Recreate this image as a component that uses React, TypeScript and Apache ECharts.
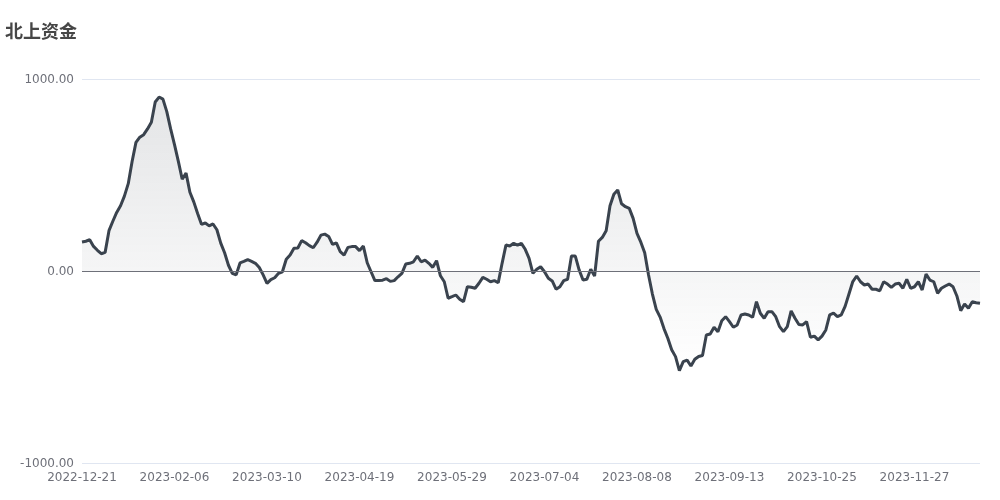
import React, { useEffect, useRef } from "react";
import * as echarts from "echarts";

const titleText = "北上资金";

const dates: string[] = [
  "2022-12-21",
  "2022-12-22", "2022-12-28", "2022-12-29", "2022-12-30", "2023-01-03", "2023-01-04", "2023-01-05", "2023-01-06",
  "2023-01-09", "2023-01-10", "2023-01-11", "2023-01-12", "2023-01-13", "2023-01-16", "2023-01-17", "2023-01-18",
  "2023-01-19", "2023-01-20", "2023-01-30", "2023-01-31", "2023-02-01", "2023-02-02", "2023-02-03", "2023-02-06",
  "2023-02-07", "2023-02-08", "2023-02-09", "2023-02-10", "2023-02-13", "2023-02-14", "2023-02-15", "2023-02-16",
  "2023-02-17", "2023-02-20", "2023-02-21", "2023-02-22", "2023-02-23", "2023-02-24", "2023-02-27", "2023-02-28",
  "2023-03-01", "2023-03-02", "2023-03-03", "2023-03-06", "2023-03-07", "2023-03-08", "2023-03-09", "2023-03-10",
  "2023-03-13", "2023-03-14", "2023-03-15", "2023-03-16", "2023-03-17", "2023-03-20", "2023-03-21", "2023-03-22",
  "2023-03-23", "2023-03-24", "2023-03-27", "2023-03-28", "2023-03-29", "2023-03-30", "2023-03-31", "2023-04-03",
  "2023-04-04", "2023-04-11", "2023-04-12", "2023-04-13", "2023-04-14", "2023-04-17", "2023-04-18", "2023-04-19",
  "2023-04-20", "2023-04-21", "2023-04-24", "2023-04-25", "2023-04-26", "2023-04-27", "2023-04-28", "2023-05-04",
  "2023-05-05", "2023-05-08", "2023-05-09", "2023-05-10", "2023-05-11", "2023-05-12", "2023-05-15", "2023-05-16",
  "2023-05-17", "2023-05-18", "2023-05-19", "2023-05-22", "2023-05-23", "2023-05-24", "2023-05-25", "2023-05-29",
  "2023-05-30", "2023-05-31", "2023-06-01", "2023-06-02", "2023-06-05", "2023-06-06", "2023-06-07", "2023-06-08",
  "2023-06-09", "2023-06-12", "2023-06-13", "2023-06-14", "2023-06-15", "2023-06-16", "2023-06-19", "2023-06-20",
  "2023-06-21", "2023-06-26", "2023-06-27", "2023-06-28", "2023-06-29", "2023-06-30", "2023-07-03", "2023-07-04",
  "2023-07-05", "2023-07-06", "2023-07-07", "2023-07-10", "2023-07-11", "2023-07-12", "2023-07-13", "2023-07-14",
  "2023-07-18", "2023-07-19", "2023-07-20", "2023-07-21", "2023-07-24", "2023-07-25", "2023-07-26", "2023-07-27",
  "2023-07-28", "2023-07-31", "2023-08-01", "2023-08-02", "2023-08-03", "2023-08-04", "2023-08-07", "2023-08-08",
  "2023-08-09", "2023-08-10", "2023-08-11", "2023-08-14", "2023-08-15", "2023-08-16", "2023-08-17", "2023-08-18",
  "2023-08-21", "2023-08-22", "2023-08-23", "2023-08-24", "2023-08-25", "2023-08-28", "2023-08-29", "2023-08-30",
  "2023-08-31", "2023-09-04", "2023-09-05", "2023-09-06", "2023-09-07", "2023-09-11", "2023-09-12", "2023-09-13",
  "2023-09-14", "2023-09-15", "2023-09-18", "2023-09-19", "2023-09-20", "2023-09-21", "2023-09-22", "2023-09-25",
  "2023-09-26", "2023-09-27", "2023-09-28", "2023-10-09", "2023-10-10", "2023-10-11", "2023-10-12", "2023-10-13",
  "2023-10-16", "2023-10-17", "2023-10-18", "2023-10-19", "2023-10-20", "2023-10-23", "2023-10-24", "2023-10-25",
  "2023-10-26", "2023-10-27", "2023-10-30", "2023-10-31", "2023-11-01", "2023-11-02", "2023-11-03", "2023-11-06",
  "2023-11-07", "2023-11-08", "2023-11-09", "2023-11-10", "2023-11-13", "2023-11-14", "2023-11-15", "2023-11-16",
  "2023-11-17", "2023-11-20", "2023-11-21", "2023-11-22", "2023-11-23", "2023-11-24", "2023-11-25", "2023-11-27",
  "2023-11-28", "2023-11-29", "2023-11-30", "2023-12-01", "2023-12-04", "2023-12-05", "2023-12-06", "2023-12-07",
  "2023-12-08", "2023-12-11", "2023-12-12", "2023-12-13", "2023-12-14", "2023-12-15", "2023-12-18", "2023-12-19",
  "2023-12-20",
];

const netInflow: number[] = [
  151, 155, 163, 128, 108, 90, 97, 210, 259, 305,
  340, 390, 455, 570, 670, 697, 710, 740, 775, 880,
  906, 895, 830, 740, 658, 571, 478, 510, 410, 360,
  300, 243, 250, 235, 245, 215, 145, 95, 30, -12,
  -20, 42, 50, 59, 50, 40, 18, -20, -64, -45,
  -35, -12, -4, 61, 83, 118, 120, 158, 147, 132,
  121, 150, 187, 192, 180, 139, 146, 101, 83, 123,
  127, 127, 106, 130, 43, -4, -50, -50, -48, -40,
  -54, -50, -30, -12, 36, 40, 48, 78, 48, 57,
  40, 19, 54, -25, -56, -142, -134, -125, -147, -160,
  -82, -85, -90, -64, -33, -43, -56, -50, -61, 40,
  135, 130, 144, 135, 144, 113, 66, -12, 9, 22,
  -4, -38, -52, -95, -82, -50, -43, 78, 78, 5,
  -47, -43, 9, -26, 155, 175, 210, 340, 400, 422,
  350, 335, 326, 274, 196, 150, 95, -21, -120, -200,
  -240, -300, -350, -410, -446, -519, -472, -464, -495, -460,
  -445, -440, -333, -328, -293, -316, -259, -238, -264, -293,
  -281, -229, -224, -229, -241, -160, -220, -246, -212, -212,
  -238, -290, -316, -290, -208, -246, -279, -281, -264, -345,
  -339, -359, -339, -307, -229, -220, -238, -229, -184, -120,
  -55, -26, -56, -73, -68, -95, -95, -103, -56, -68,
  -85, -68, -64, -90, -43, -90, -82, -56, -99, -16,
  -47, -56, -116, -90, -78, -68, -82, -130, -207, -172,
  -194, -160, -165, -168,
];

const yMin = -1000;
const yMax = 1000;
const yStep = 1000;

export default function App() {
  const ref = useRef<HTMLDivElement>(null);
  useEffect(() => {
    if (!ref.current) return;
    const chart = echarts.init(ref.current, undefined, { renderer: "svg" });
    chart.setOption({
      animation: false,
      title: {
        text: titleText,
        left: 0,
        top: 16,
        textStyle: {
          fontSize: 18,
          fontWeight: "bold",
          color: "#464646",
          fontFamily: "Noto Sans CJK SC",
        },
      },
      grid: { left: 82, right: 20, top: 79, bottom: 37 },
      xAxis: {
        type: "category",
        data: dates,
        boundaryGap: false,
        axisLine: { show: false },
        axisTick: { show: false },
        axisLabel: {
          interval: 23,
          color: "#6e7079",
          fontSize: 12,
          fontFamily: "DejaVu Sans",
        },
        splitLine: { show: false },
      },
      yAxis: {
        type: "value",
        min: yMin,
        max: yMax,
        interval: yStep,
        axisLabel: {
          color: "#6e7079",
          fontSize: 12,
          fontFamily: "DejaVu Sans",
          formatter: (v: number) => v.toFixed(2),
        },
        splitLine: { lineStyle: { color: "#e0e6f1" } },
      },
      series: [
        {
          type: "line",
          data: netInflow,
          showSymbol: false,
          smooth: false,
          lineStyle: { color: "#3a434e", width: 3 },
          itemStyle: { color: "#3a434e" },
          areaStyle: {
            color: new echarts.graphic.LinearGradient(0, 0, 0, 1, [
              { offset: 0, color: "rgba(60,68,78,0.2)" },
              { offset: 1, color: "rgba(60,68,78,0)" },
            ]),
          },
          markLine: {
            silent: true,
            symbol: "none",
            label: { show: false },
            lineStyle: { color: "#6e7079", width: 1, type: "solid" },
            data: [{ yAxis: 0 }],
          },
        },
      ],
    });
    return () => chart.dispose();
  }, []);
  return (
    <div
      ref={ref}
      style={{ position: "fixed", left: 0, top: 0, width: 1000, height: 500 }}
    />
  );
}
